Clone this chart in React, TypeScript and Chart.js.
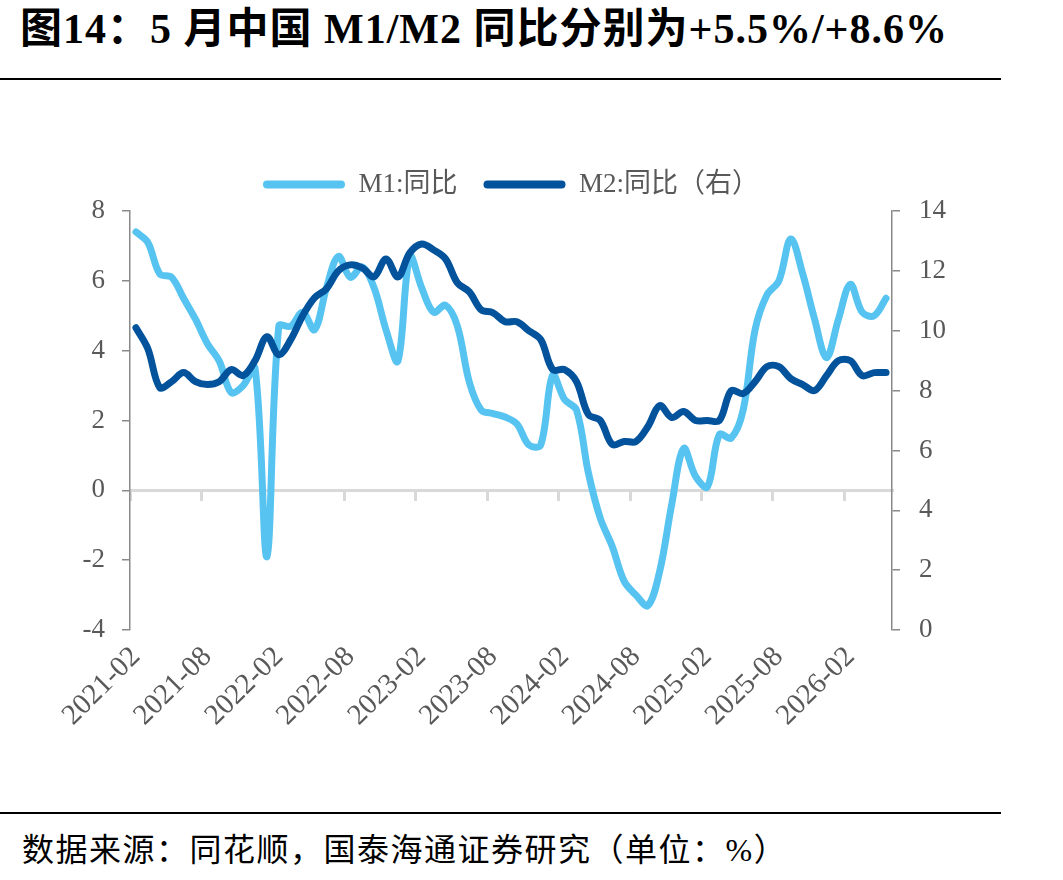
import React, { useEffect, useRef } from 'react';
import { Chart, registerables } from 'chart.js';

Chart.register(...registerables);

const categories = [
  '2021-02', '2021-03', '2021-04', '2021-05', '2021-06', '2021-07', '2021-08', '2021-09', '2021-10', '2021-11', '2021-12',
  '2022-01', '2022-02', '2022-03', '2022-04', '2022-05', '2022-06', '2022-07', '2022-08', '2022-09', '2022-10', '2022-11', '2022-12',
  '2023-01', '2023-02', '2023-03', '2023-04', '2023-05', '2023-06', '2023-07', '2023-08', '2023-09', '2023-10', '2023-11', '2023-12',
  '2024-01', '2024-02', '2024-03', '2024-04', '2024-05', '2024-06', '2024-07', '2024-08', '2024-09', '2024-10', '2024-11', '2024-12',
  '2025-01', '2025-02', '2025-03', '2025-04', '2025-05', '2025-06', '2025-07', '2025-08', '2025-09', '2025-10', '2025-11', '2025-12',
  '2026-01', '2026-02', '2026-03', '2026-04', '2026-05',
];

// M1 同比 (left axis, %)
const m1Values = [
  7.4, 7.1, 6.2, 6.1, 5.5, 4.9, 4.2, 3.7, 2.8, 3.0, 3.5,
  -1.9, 4.7, 4.7, 5.1, 4.6, 5.8, 6.7, 6.1, 6.4, 5.8, 4.6, 3.7,
  6.7, 5.8, 5.1, 5.3, 4.7, 3.1, 2.3, 2.2, 2.1, 1.9, 1.3, 1.3,
  3.3, 2.6, 2.3, 0.5, -0.8, -1.6, -2.6, -3.0, -3.3, -2.3, -0.4, 1.2,
  0.4, 0.1, 1.6, 1.5, 2.3, 4.6, 5.6, 6.0, 7.2, 6.2, 4.9, 3.8,
  4.9, 5.9, 5.1, 5.0, 5.5,
];

// M2 同比 (right axis, %)
const m2Values = [
  10.1, 9.4, 8.1, 8.3, 8.6, 8.3, 8.2, 8.3, 8.7, 8.5, 9.0,
  9.8, 9.2, 9.7, 10.5, 11.1, 11.4, 12.0, 12.2, 12.1, 11.8, 12.4, 11.8,
  12.6, 12.9, 12.7, 12.4, 11.6, 11.3, 10.7, 10.6, 10.3, 10.3, 10.0, 9.7,
  8.7, 8.7, 8.3, 7.2, 7.0, 6.2, 6.3, 6.3, 6.8, 7.5, 7.1, 7.3,
  7.0, 7.0, 7.0, 8.0, 7.9, 8.3, 8.8, 8.8, 8.4, 8.2, 8.0, 8.5,
  9.0, 9.0, 8.5, 8.6, 8.6,
];

const seriesNames = ['M1:同比', 'M2:同比（右）'];
const leftRange = { min: -4, max: 8, step: 2 };
const rightRange = { min: 0, max: 14, step: 2 };
const labelEvery = 6;

const M1_COLOR = '#56C3F1';
const M2_COLOR = '#02529C';
const AXIS_COLOR = '#8A8A8A';
const TEXT_COLOR = '#595959';
const SERIF = '"Liberation Serif", "Noto Sans CJK SC", serif';

export default function App() {
  const canvasRef = useRef<HTMLCanvasElement | null>(null);

  useEffect(() => {
    const canvas = canvasRef.current;
    if (!canvas) return;
    const tickFont = { size: 27, family: SERIF };
    const chart = new Chart(canvas, {
      type: 'line',
      data: {
        labels: categories,
        datasets: [
          {
            label: seriesNames[0],
            data: m1Values,
            borderColor: M1_COLOR,
            backgroundColor: M1_COLOR,
            borderWidth: 7,
            pointRadius: 0,
            tension: 0.35,
            borderCapStyle: 'round',
            borderJoinStyle: 'round',
            xAxisID: 'x',
            yAxisID: 'y',
            order: 1,
          },
          {
            label: seriesNames[1],
            data: m2Values,
            borderColor: M2_COLOR,
            backgroundColor: M2_COLOR,
            borderWidth: 7,
            pointRadius: 0,
            tension: 0.35,
            borderCapStyle: 'round',
            borderJoinStyle: 'round',
            xAxisID: 'x',
            yAxisID: 'y1',
            order: 0,
          },
        ],
      },
      options: {
        animation: false,
        responsive: false,
        maintainAspectRatio: false,
        layout: { padding: { top: 5, left: 0, right: 0, bottom: 0 } },
        plugins: {
          tooltip: { enabled: false },
          legend: {
            display: true,
            position: 'top',
            labels: {
              boxWidth: 82,
              boxHeight: 8,
              padding: 26,
              color: TEXT_COLOR,
              font: { size: 27, family: SERIF },
              useBorderRadius: true,
              borderRadius: 4,
              generateLabels: (ch: any) =>
                ch.data.datasets.map((ds: any, i: number) => ({
                  text: ds.label,
                  fillStyle: ds.borderColor,
                  strokeStyle: ds.borderColor,
                  lineWidth: 0,
                  hidden: false,
                  datasetIndex: i,
                  borderRadius: 4,
                  fontColor: TEXT_COLOR,
                })),
            },
          },
          subtitle: {
            display: true,
            text: '',
            position: 'top',
            weight: 500,
            font: { size: 1 },
            padding: { top: 0, bottom: 1.8 },
          } as any,
        },
        scales: {
          x: {
            type: 'category',
            position: 'bottom',
            offset: true,
            grid: { display: false, drawTicks: false },
            border: { display: false },
            ticks: {
              autoSkip: false,
              maxRotation: 45,
              minRotation: 45,
              padding: 10,
              color: TEXT_COLOR,
              font: { size: 29, family: SERIF },
              callback: (_v: any, i: number) => (i % labelEvery === 0 ? categories[i] : ''),
            },
            afterFit: (s: any) => {
              s.height = 110;
            },
          },
          x0: {
            type: 'category',
            position: { y: 0 },
            offset: true,
            grid: {
              display: true,
              drawOnChartArea: false,
              drawTicks: true,
              tickLength: 9,
              offset: true,
              lineWidth: 3,
              color: (c: any) => (c.index % labelEvery === 0 ? '#D9D9D9' : 'rgba(0,0,0,0)'),
            },
            border: { display: true, color: '#D9D9D9', width: 3 },
            ticks: { display: false },
          },
          y: {
            type: 'linear',
            position: 'left',
            min: leftRange.min,
            max: leftRange.max,
            ticks: { stepSize: leftRange.step, color: TEXT_COLOR, font: tickFont, padding: 17 },
            grid: {
              display: true,
              drawOnChartArea: false,
              drawTicks: true,
              tickLength: 8,
              color: AXIS_COLOR,
              lineWidth: 1.5,
            },
            border: { display: true, color: AXIS_COLOR, width: 1.5 },
            afterFit: (s: any) => {
              s.width = 130;
            },
          },
          y1: {
            type: 'linear',
            position: 'right',
            min: rightRange.min,
            max: rightRange.max,
            ticks: { stepSize: rightRange.step, color: TEXT_COLOR, font: tickFont, padding: 19 },
            grid: {
              display: true,
              drawOnChartArea: false,
              drawTicks: true,
              tickLength: 8,
              color: AXIS_COLOR,
              lineWidth: 1.5,
            },
            border: { display: true, color: AXIS_COLOR, width: 1.5 },
            afterFit: (s: any) => {
              s.width = 130;
            },
          },
        },
      } as any,
    });
    return () => chart.destroy();
  }, []);

  return (
    <div style={{ position: 'absolute', left: 0, top: 0, width: 1063, height: 880, background: '#fff', overflow: 'hidden' }}>
      <div
        style={{
          position: 'absolute',
          left: 20,
          top: 4,
          fontFamily: SERIF,
          fontWeight: 'bold',
          fontSize: 42,
          letterSpacing: 1,
          color: '#000',
          whiteSpace: 'nowrap',
          lineHeight: '50px',
        }}
      >
        图14：5 月中国 M1/M2 同比分别为+5.5%/+8.6%
      </div>
      <div style={{ position: 'absolute', left: 0, top: 78, width: 1001, height: 2, background: '#000' }} />
      <canvas
        ref={canvasRef}
        width={1022}
        height={600}
        style={{ position: 'absolute', left: 0, top: 140, width: 1022, height: 600 }}
      />
      <div style={{ position: 'absolute', left: 0, top: 812, width: 1001, height: 2, background: '#000' }} />
      <div
        style={{
          position: 'absolute',
          left: 22,
          top: 830,
          fontFamily: SERIF,
          fontSize: 32,
          letterSpacing: 1.5,
          color: '#000',
          whiteSpace: 'nowrap',
          lineHeight: '40px',
        }}
      >
        数据来源：同花顺，国泰海通证券研究（单位：%）
      </div>
    </div>
  );
}
